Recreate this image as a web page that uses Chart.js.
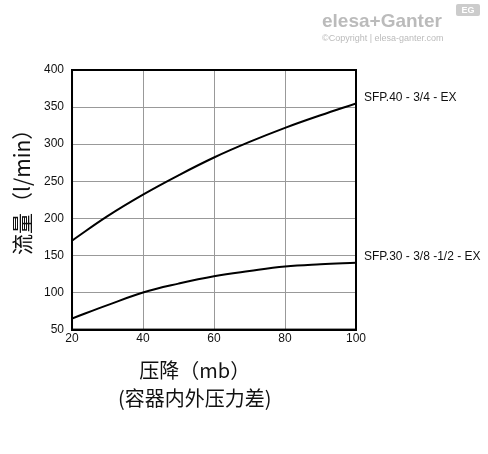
<!DOCTYPE html>
<html><head><meta charset="utf-8">
<script src="https://cdn.jsdelivr.net/npm/chart.js@4"></script>
<style>
body{margin:0;background:#fff;width:488px;height:454px;overflow:hidden;position:relative;font-family:"Noto Sans CJK SC","Noto Sans",sans-serif}
#wrap{position:absolute;left:0;top:0;width:488px;height:454px}
.logo{position:absolute;left:322px;top:10px;color:#bbb;font:bold 19px "Liberation Sans",sans-serif}
.copy{position:absolute;left:322px;top:33px;color:#bbb;font:9px "Liberation Sans",sans-serif}
.eg{position:absolute;left:456px;top:4px;width:24px;height:12px;background:#ccc;color:#fff;font:bold 9px sans-serif;text-align:center;line-height:12px;border-radius:2px}
.ylab{position:absolute;left:6px;top:205px;transform:rotate(-90deg);transform-origin:left top;font-size:21px;color:#111;white-space:nowrap;translate:0 50px}
.xlab{position:absolute;left:118px;top:356px;font-size:20px;color:#111;text-align:center;line-height:28px}
</style></head><body>
<div id="wrap"><canvas id="c" width="488" height="454"></canvas></div>
<div class="logo">elesa+Ganter</div>
<div class="copy">©Copyright | elesa-ganter.com</div>
<div class="eg">EG</div>
<div class="ylab">流量（l/min）</div>
<div class="xlab">压降（mb）<br>(容器内外压力差)</div>
<script>
const xValues = [20, 30, 40, 50, 60, 70, 80, 90, 100];
const sfp40 = [170, 203, 232, 258, 282, 303, 322, 339, 355];
const sfp30 = [65, 83, 100, 112, 122, 129, 135, 138, 140];
const seriesNames = ['SFP.40 - 3/4 - EX', 'SFP.30 - 3/8 -1/2 - EX'];

const endLabels = {
  id: 'endLabels',
  afterDatasetsDraw(chart) {
    const ctx = chart.ctx;
    ctx.save();
    ctx.font = '12px "Liberation Sans Narrow", "Liberation Sans", sans-serif';
    ctx.fillStyle = '#111';
    ctx.textBaseline = 'middle';
    chart.data.datasets.forEach((ds, i) => {
      const pts = chart.getDatasetMeta(i).data;
      const p = pts[pts.length - 1];
      ctx.fillText(seriesNames[i], p.x + 8, p.y - 6);
    });
    ctx.restore();
  }
};

new Chart(document.getElementById('c'), {
  type: 'line',
  data: {
    datasets: [
      { data: xValues.map((x, i) => ({x, y: sfp40[i]})), borderColor: '#000', borderWidth: 2, pointRadius: 0, tension: 0.4 },
      { data: xValues.map((x, i) => ({x, y: sfp30[i]})), borderColor: '#000', borderWidth: 2, pointRadius: 0, tension: 0.4 }
    ]
  },
  options: {
    responsive: false, animation: false,
    layout: { padding: { left: 36, right: 132, top: 70, bottom: 106 } },
    plugins: { legend: { display: false }, tooltip: { enabled: false } },
    scales: {
      x: { type: 'linear', min: 20, max: 100,
        ticks: { stepSize: 20, color: '#111', font: { size: 12 }, padding: 2 },
        grid: { color: '#999', lineWidth: 1, tickLength: 0 },
        border: { color: '#000', width: 2 } },
      y: { min: 50, max: 400,
        ticks: { stepSize: 50, color: '#111', font: { size: 12 }, padding: 8 },
        grid: { color: '#999', lineWidth: 1, tickLength: 0 },
        border: { color: '#000', width: 2 } }
    }
  },
  plugins: [endLabels, {
    id: 'frame',
    afterDraw(chart) {
      const a = chart.chartArea, ctx = chart.ctx;
      ctx.save(); ctx.strokeStyle = '#000'; ctx.lineWidth = 2;
      ctx.strokeRect(a.left, a.top, a.right - a.left, a.bottom - a.top);
      ctx.restore();
    }
  }]
});
</script>
</body></html>
